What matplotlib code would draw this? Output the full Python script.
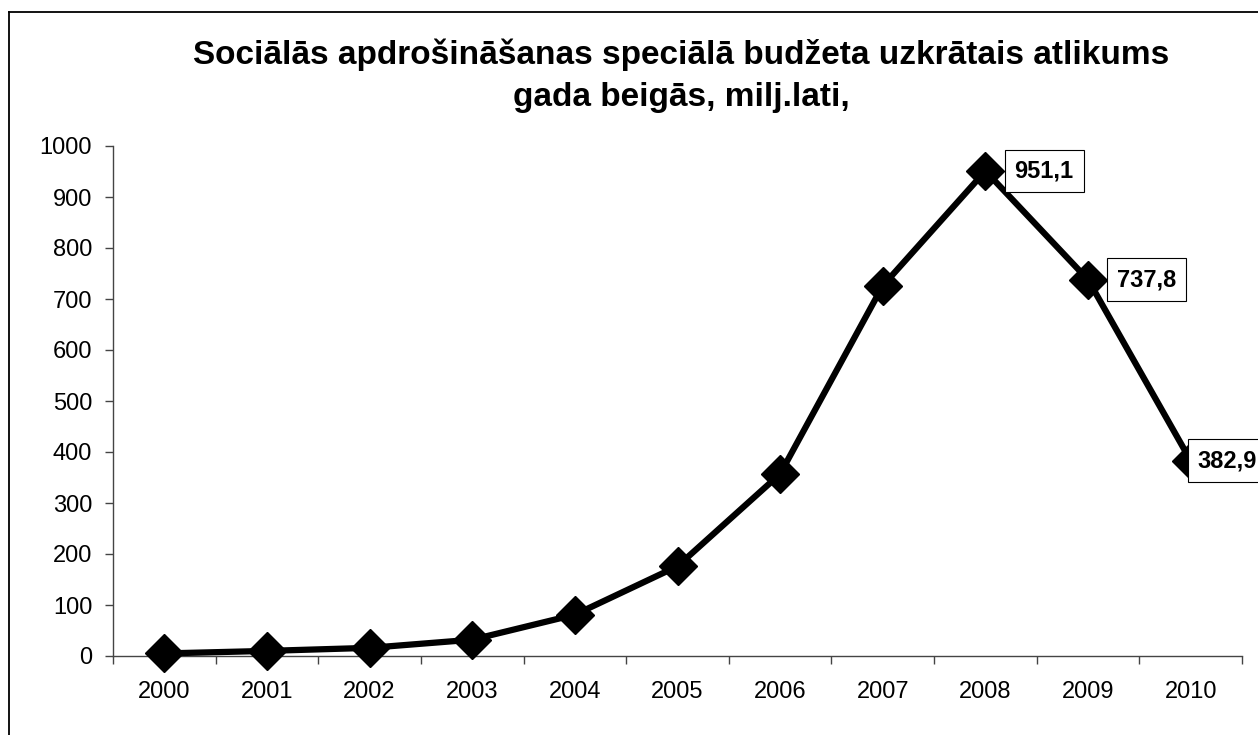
import matplotlib.pyplot as plt
from matplotlib.lines import Line2D

plt.rcParams["font.family"] = ["Liberation Sans", "DejaVu Sans"]

# Data (milj. lati, end of year)
years = ["2000", "2001", "2002", "2003", "2004", "2005",
         "2006", "2007", "2008", "2009", "2010"]
values = [5, 10, 16, 32, 81, 176, 357, 726, 951.1, 737.8, 382.9]
labeled = {8: "951,1", 9: "737,8", 10: "382,9"}

title = ("Sociālās apdrošināšanas speciālā budžeta uzkrātais atlikums\n"
         "gada beigās, milj.lati,")

W, H = 1258, 735
fig = plt.figure(figsize=(W / 100, H / 100), dpi=100)
ax = fig.add_axes([113 / W, 1 - 656 / H, (1242 - 113) / W, (656 - 146) / H])

x = list(range(len(years)))
ax.plot(x, values, color="black", lw=4.5, marker="D", markersize=19,
        markerfacecolor="black", markeredgecolor="black", zorder=3,
        clip_on=False)

# last label sits closer to its marker (no room at the right edge)
offsets = {8: 21, 9: 21, 10: 5}
for i, txt in labeled.items():
    ax.annotate(txt, xy=(i, values[i]), xytext=(offsets[i], 0),
                textcoords="offset points", va="center", ha="left",
                fontsize=17, fontweight="bold",
                bbox=dict(boxstyle="square,pad=0.42", fc="white",
                          ec="black", lw=0.8),
                annotation_clip=False, zorder=4)

ax.set_xlim(-0.5, len(years) - 0.5)
ax.set_ylim(0, 1000)
ax.set_yticks(range(0, 1001, 100))
ax.set_xticks(x)
ax.set_xticklabels(years)
ax.set_xticks([i - 0.5 for i in range(len(years) + 1)], minor=True)
ax.tick_params(axis="x", which="major", length=0, pad=18, labelsize=17)
ax.tick_params(axis="x", which="minor", length=6, width=1, color="#444444")
ax.tick_params(axis="y", length=6, width=1, color="#444444", labelsize=17,
               pad=9)

for s in ["top", "right"]:
    ax.spines[s].set_visible(False)
for s in ["left", "bottom"]:
    ax.spines[s].set_color("#444444")
    ax.spines[s].set_linewidth(1)

fig.text(681 / W, 1 - 76 / H, title, ha="center", va="center",
         fontsize=24, fontweight="bold", linespacing=1.45)

# outer chart frame (only left and top edges visible)
fig.add_artist(Line2D([9 / W, 9 / W], [0, 1 - 12 / H], color="black",
                      lw=1.3, transform=fig.transFigure))
fig.add_artist(Line2D([9 / W, 1], [1 - 12 / H, 1 - 12 / H], color="black",
                      lw=1.3, transform=fig.transFigure))

fig.savefig("out.png", dpi=100)
